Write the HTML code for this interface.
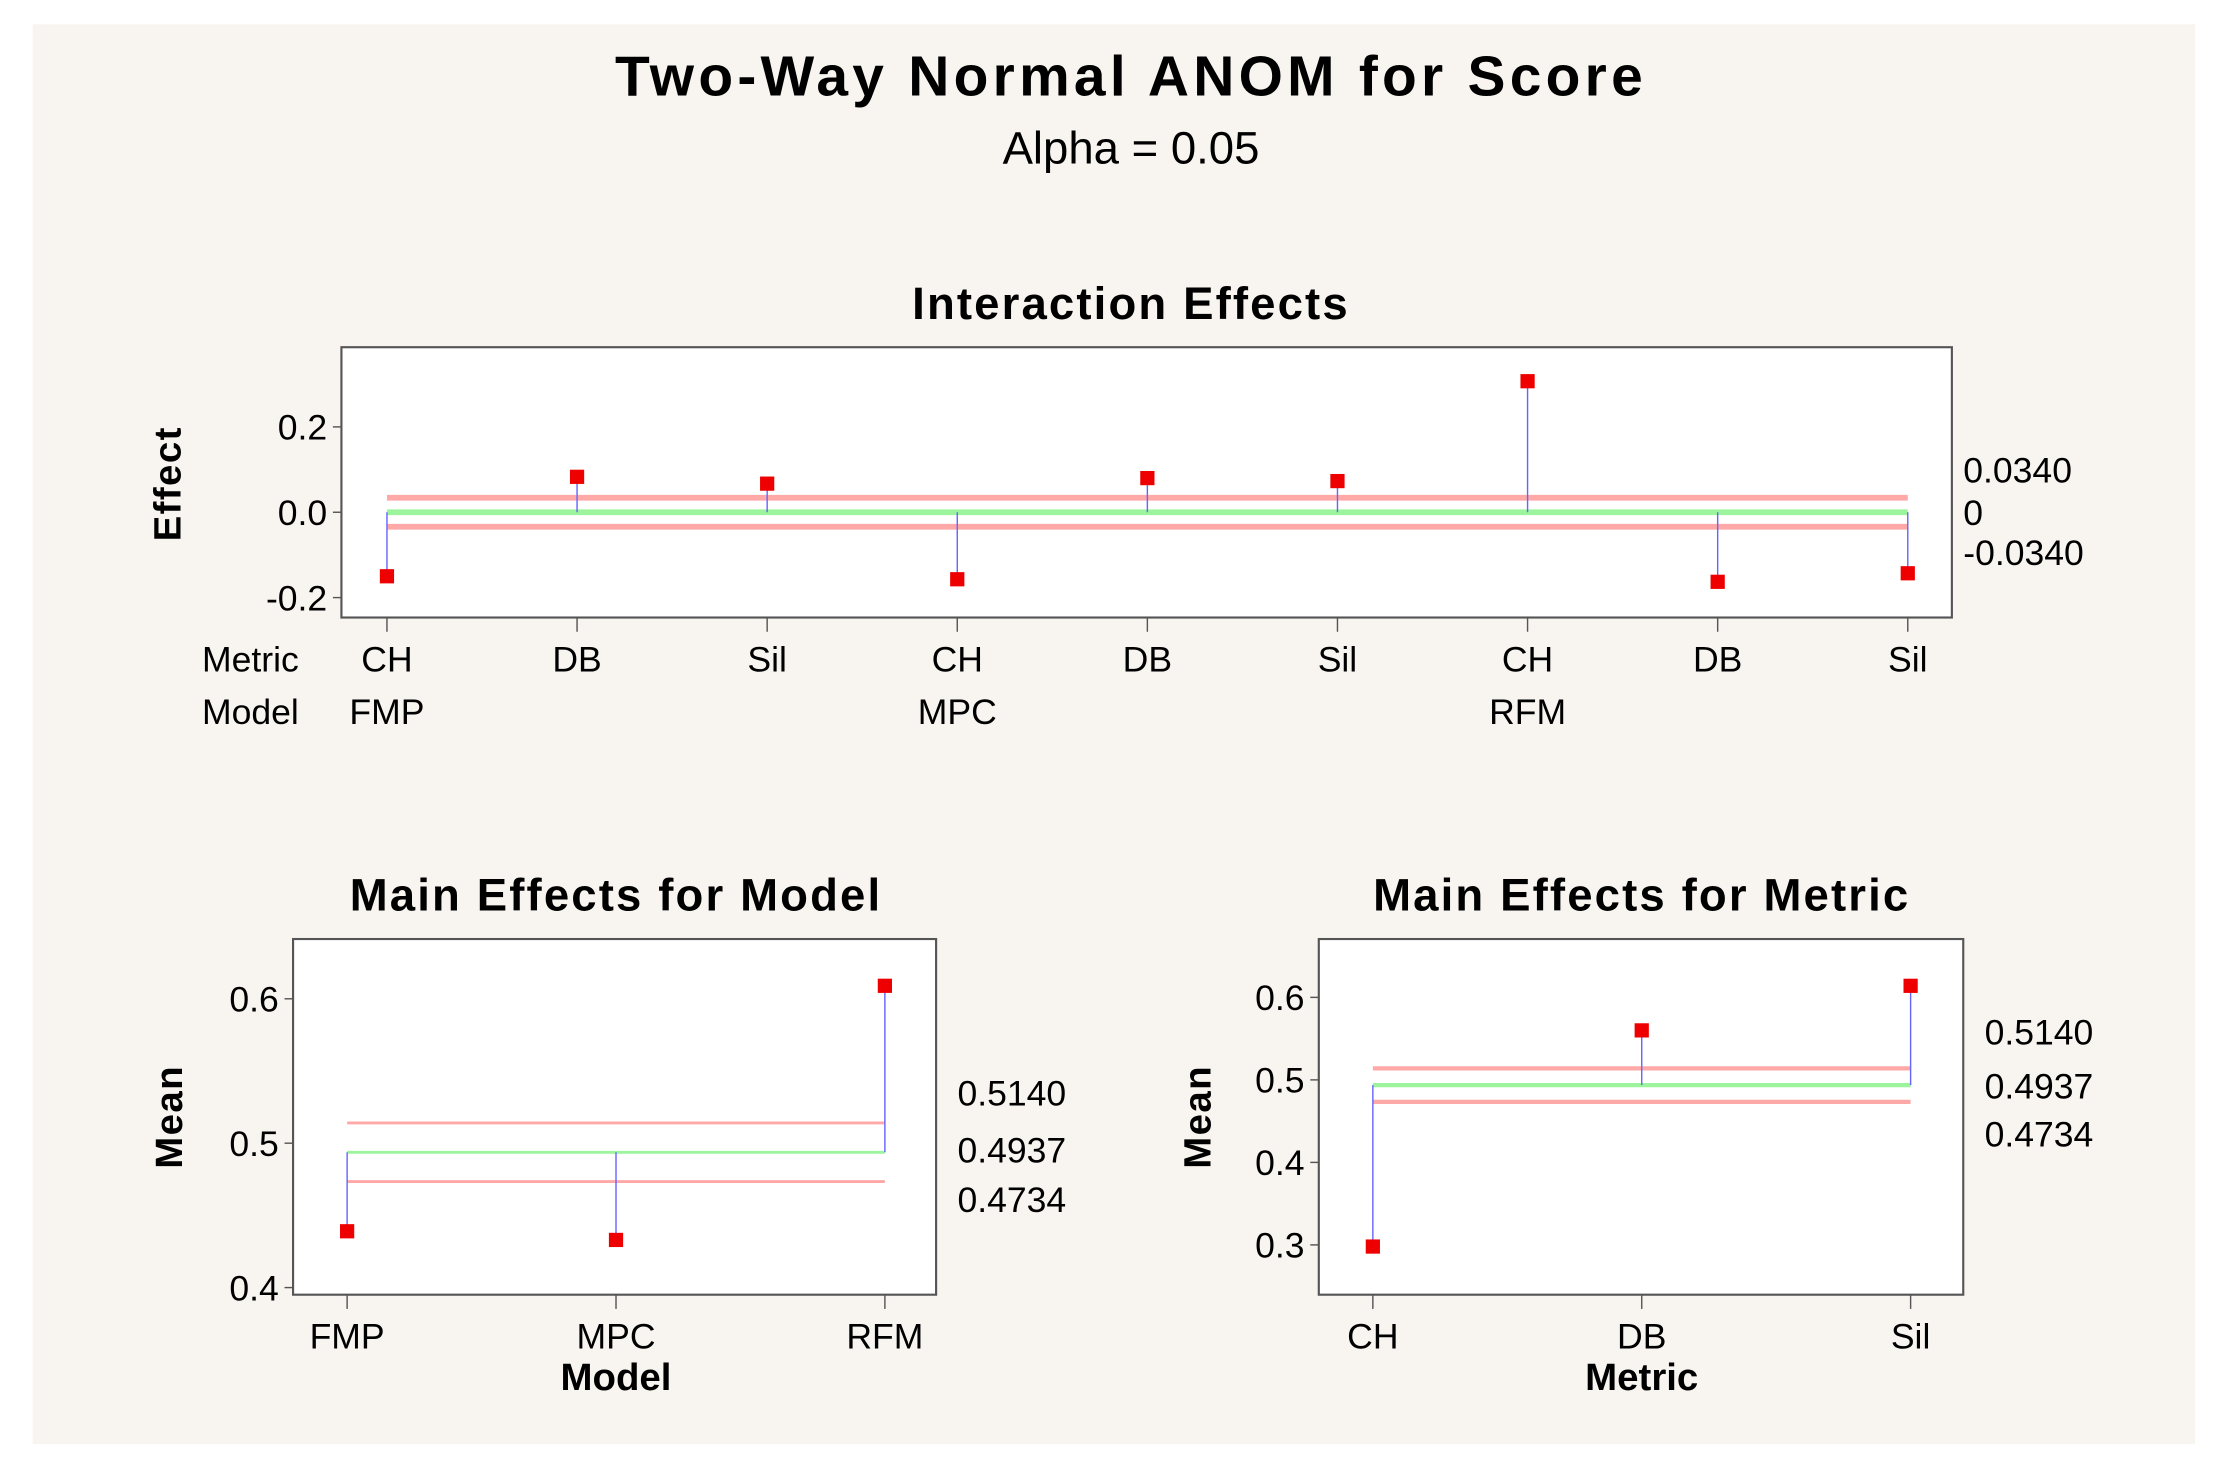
<!DOCTYPE html>
<html><head><meta charset="utf-8"><style>
html,body{margin:0;padding:0;background:#fff;}
svg{display:block;font-family:"Liberation Sans","DejaVu Sans",sans-serif;}
</style></head><body>
<svg id="chart" width="2230" height="1484" viewBox="0 0 1567.5 1043" xmlns="http://www.w3.org/2000/svg">
<rect x="23" y="17" width="1520" height="998" fill="#f8f5f0"/>
<text x="795" y="67" text-anchor="middle" font-size="40" font-weight="bold" letter-spacing="3">Two-Way Normal ANOM for Score</text>
<text x="795" y="115" text-anchor="middle" font-size="32">Alpha = 0.05</text>
<g id="g"></g>
</svg>
<script>
const intMetrics = ["CH","DB","Sil","CH","DB","Sil","CH","DB","Sil"];
const intModels = ["FMP","","","MPC","","","RFM","",""];
const intEffects = [-0.15,0.083,0.067,-0.157,0.08,0.073,0.307,-0.163,-0.143];
const intTicks = [0.2,0.0,-0.2];
const intTickLabels = ["0.2","0.0","-0.2"];
const intLimits = [0.034,0,-0.034];
const intLimitLabels = ["0.0340","0","-0.0340"];

const modelCats = ["FMP","MPC","RFM"];
const modelMeans = [0.439,0.433,0.609];
const modelTicks = [0.6,0.5,0.4];
const modelTickLabels = ["0.6","0.5","0.4"];

const metricCats = ["CH","DB","Sil"];
const metricMeans = [0.298,0.560,0.614];
const metricTicks = [0.6,0.5,0.4,0.3];
const metricTickLabels = ["0.6","0.5","0.4","0.3"];

const mainLimits = [0.514,0.4937,0.4734];
const mainLimitLabels = ["0.5140","0.4937","0.4734"];

const NS="http://www.w3.org/2000/svg";
const g=document.getElementById('g');
function el(tag,attrs,parent){const e=document.createElementNS(NS,tag);for(const k in attrs)e.setAttribute(k,attrs[k]);(parent||g).appendChild(e);return e;}
function txt(s,attrs){const e=el('text',attrs);e.textContent=s;return e;}

function panel(cfg){
  const box=el('rect',{x:cfg.x0,y:cfg.y0,width:cfg.x1-cfg.x0,height:cfg.y1-cfg.y0,fill:'#fff',stroke:'#555','stroke-width':1.5});
  
  
  const yS=v=>cfg.yA+(v-cfg.vA)*(cfg.yB-cfg.yA)/(cfg.vB-cfg.vA);
  const n=cfg.vals.length;
  const xS=i=>cfg.px0+i*(cfg.px1-cfg.px0)/(n-1);
  const t=txt(cfg.title,{x:cfg.tx,y:cfg.y0-20,'text-anchor':'middle','font-size':32,'font-weight':'bold','letter-spacing':1.5});
  
  
  cfg.ticks.forEach((v,i)=>{
    const y=yS(v);
    const tk=el('line',{x1:cfg.x0-6,x2:cfg.x0,y1:y,y2:y,stroke:'#555','stroke-width':1});
    
    
    const tl=txt(cfg.tickLabels[i],{x:cfg.x0-10,y:y+9,'text-anchor':'end','font-size':25});
    
    
  });
  const ya=txt(cfg.ylabel,{x:0,y:0,'text-anchor':'middle','font-size':27,'font-weight':'bold','letter-spacing':1,transform:`translate(${cfg.ylx},${cfg.yly}) rotate(-90)`});
  
  
  const lx0=xS(0),lx1=xS(n-1);
  cfg.limits.forEach((v,i)=>{
    const y=yS(v);
    const ln=el('line',{x1:lx0,x2:lx1,y1:y,y2:y,stroke:i===1?'#9cf59c':'#ffa8a8','stroke-width':cfg.lw});
    
    
    const ll=txt(cfg.limitLabels[i],{x:cfg.llx,y:cfg.lly[i],'font-size':25});
    
    
  });
  const yc=yS(cfg.limits[1]);
  cfg.vals.forEach((v,i)=>{
    const x=xS(i),y=yS(v);
    const tk=el('line',{x1:x,x2:x,y1:cfg.y1,y2:cfg.y1+10,stroke:'#555','stroke-width':1});
    
    
    const st=el('line',{x1:x,x2:x,y1:yc,y2:y,stroke:'#6666ff','stroke-width':1});
    
    
    const pt=el('rect',{x:x-5,y:y-5,width:10,height:10,fill:'#ee0000'});
    
    
    const xl=txt(cfg.cats[i],{x:x,y:cfg.y1+38,'text-anchor':'middle','font-size':25});
    
    
    if(cfg.cats2 && cfg.cats2[i]){
      const xl2=txt(cfg.cats2[i],{x:x,y:cfg.y1+75,'text-anchor':'middle','font-size':25});
      
      
    }
  });
  if(cfg.xlabel){
    const xa=txt(cfg.xlabel,{x:cfg.px0+(cfg.px1-cfg.px0)/2,y:cfg.y1+67,'text-anchor':'middle','font-size':27,'font-weight':'bold'});
    
    
  }
}

panel({name:'interaction',title:'Interaction Effects',tx:795,x0:240,x1:1372,y0:244,y1:434,
  vA:0.2,yA:300,vB:-0.2,yB:420,px0:272,px1:1341,vals:intEffects,cats:intMetrics,cats2:intModels,
  ticks:intTicks,tickLabels:intTickLabels,limits:intLimits,limitLabels:intLimitLabels,
  llx:1380,lly:[339,369,397],lw:4,ylabel:'Effect',ylx:127,yly:340});
const m1=txt('Metric',{x:176,y:472,'text-anchor':'middle','font-size':25});


const m2=txt('Model',{x:176,y:509,'text-anchor':'middle','font-size':25});



panel({name:'model',title:'Main Effects for Model',tx:433,x0:206,x1:658,y0:660,y1:910,
  vA:0.6,yA:702,vB:0.4,yB:905,px0:244,px1:622,vals:modelMeans,cats:modelCats,
  ticks:modelTicks,tickLabels:modelTickLabels,limits:mainLimits,limitLabels:mainLimitLabels,
  llx:673,lly:[777,817,852],lw:2,ylabel:'Mean',ylx:128,yly:785,xlabel:'Model'});

panel({name:'metric',title:'Main Effects for Metric',tx:1154,x0:927,x1:1380,y0:660,y1:910,
  vA:0.6,yA:701,vB:0.3,yB:875,px0:965,px1:1343,vals:metricMeans,cats:metricCats,
  ticks:metricTicks,tickLabels:metricTickLabels,limits:mainLimits,limitLabels:mainLimitLabels,
  llx:1395,lly:[734,772,806],lw:3,ylabel:'Mean',ylx:851,yly:785,xlabel:'Metric'});
</script>
</body></html>
